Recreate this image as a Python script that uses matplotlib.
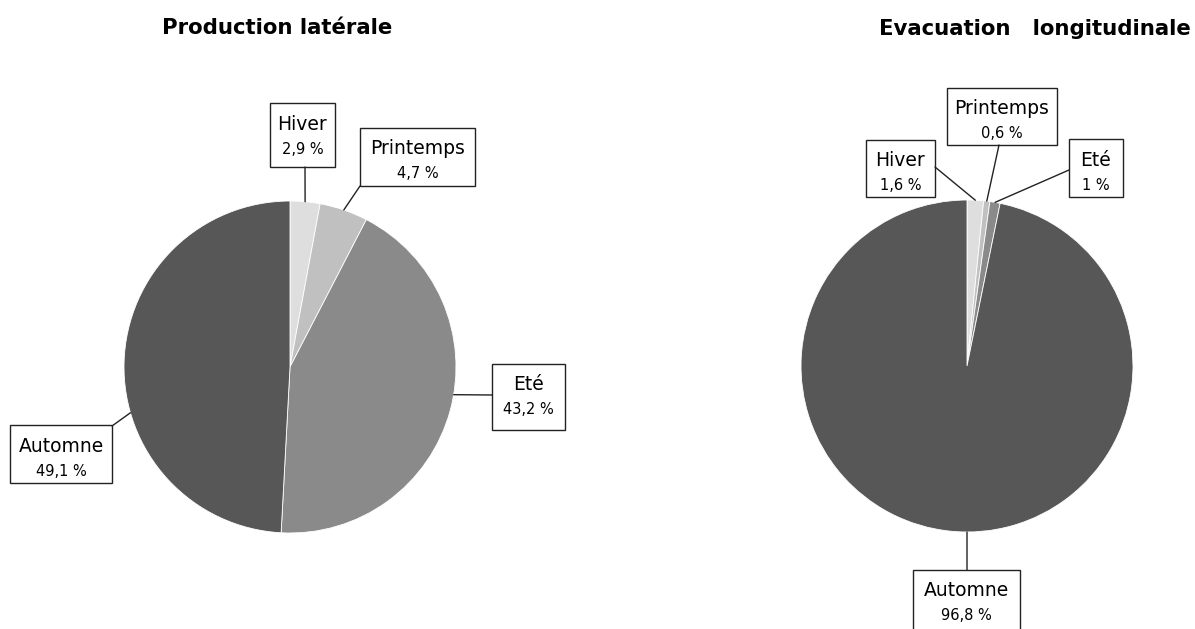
import numpy as np
import matplotlib
matplotlib.use('Agg')
import matplotlib.pyplot as plt
from matplotlib.patches import Rectangle

# data
seasons = ['Hiver', 'Printemps', 'Eté', 'Automne']
production = [2.9, 4.7, 43.2, 49.1]
evacuation = [1.6, 0.6, 1.0, 96.8]
titles = ['Production latérale', 'Evacuation   longitudinale']
colors = ['#dedede', '#c0c0c0', '#8a8a8a', '#575757']

W, H = 1195, 629

# pie centre and radius in pixels (from top-left)
pies = [(290, 367, 166), (967, 366, 166)]
title_pos = [(277, 28), (1035, 29)]

# label boxes: x, y_top, width, height, leader anchor x, anchor y
boxes = [
    [(270, 103, 65, 64, 305, 167),
     (360, 128, 115, 58, 360, 186),
     (492, 364, 73, 66, 492, 395),
     (10, 425, 102, 58, 112, 426)],
    [(866, 140, 69, 57, 935, 167),
     (947, 88, 110, 57, 999, 145),
     (1069, 139, 54, 58, 1069, 170),
     (913, 570, 107, 64, 967, 570)],
]
# where the leader touches the pie (degrees), None = middle of the slice
leader_angle = [
    [None, None, -9.6, -164],
    [None, None, None, -90],
]


def fmt(v):
    return ('%g' % v).replace('.', ',') + ' %'


fig = plt.figure(figsize=(W / 100, H / 100), dpi=100)

# overlay in pixel coordinates for boxes, titles and leaders
over = fig.add_axes([0, 0, 1, 1], zorder=5)
over.set_xlim(0, W)
over.set_ylim(H, 0)
over.axis('off')
over.patch.set_visible(False)

for k, values in enumerate([production, evacuation]):
    cx, cy, r = pies[k]
    ax = fig.add_axes([(cx - r) / W, (H - cy - r) / H, 2 * r / W, 2 * r / H])
    wedges, _ = ax.pie(values, colors=colors, startangle=90, counterclock=False,
                       radius=1, wedgeprops=dict(edgecolor='white', linewidth=0.6))
    ax.set_xlim(-1, 1)
    ax.set_ylim(-1, 1)
    ax.axis('off')

    tx, ty = title_pos[k]
    over.text(tx, ty, titles[k], ha='center', va='center', fontsize=15.3,
              fontweight='bold', color='black')

    for i, w in enumerate(wedges):
        x0, y0, bw, bh, axp, ayp = boxes[k][i]
        a = leader_angle[k][i]
        if a is None:
            a = (w.theta1 + w.theta2) / 2
        ang = np.deg2rad(a)
        over.annotate('', xy=(np.cos(ang), np.sin(ang)), xycoords=ax.transData,
                      xytext=(axp, ayp), textcoords='data',
                      arrowprops=dict(arrowstyle='-', color='#222222', lw=1,
                                      shrinkA=0, shrinkB=0))
        over.add_patch(Rectangle((x0, y0), bw, bh, facecolor='white',
                                 edgecolor='#222222', lw=1, clip_on=False))
        over.text(x0 + bw / 2, y0 + 21, seasons[i], ha='center', va='center',
                  fontsize=13.5, color='black')
        over.text(x0 + bw / 2, y0 + 46, fmt(values[i]), ha='center', va='center',
                  fontsize=10.5, color='black')

fig.savefig('out.png', dpi=100, facecolor='white')
